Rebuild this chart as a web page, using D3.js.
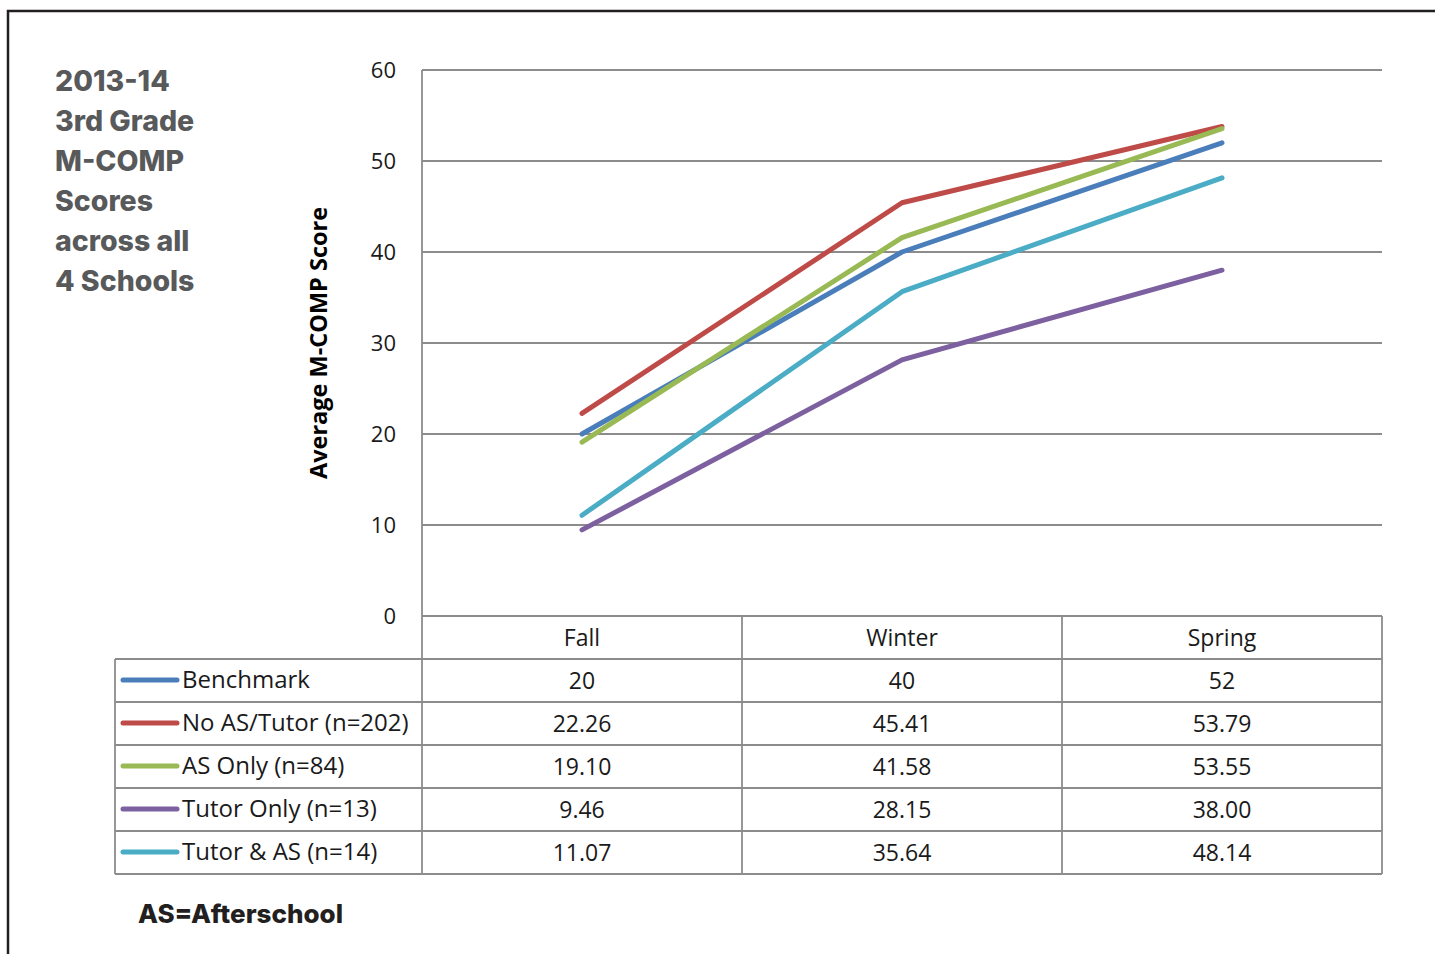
<!DOCTYPE html>
<html>
<head>
<meta charset="utf-8">
<script src="https://cdn.jsdelivr.net/npm/d3@7"></script>
<style>
  body { margin: 0; background: #fff; }
  svg { display: block; }
</style>
</head>
<body>
<svg class="d3svg" width="1435" height="954"></svg>
<script>
var seasons = ["Fall", "Winter", "Spring"];
var seriesNames = ["Benchmark", "No AS/Tutor (n=202)", "AS Only (n=84)", "Tutor Only (n=13)", "Tutor & AS (n=14)"];
var benchmark = [20, 40, 52];
var noAsTutor = [22.26, 45.41, 53.79];
var asOnly = [19.10, 41.58, 53.55];
var tutorOnly = [9.46, 28.15, 38.00];
var tutorAs = [11.07, 35.64, 48.14];
var tableLabels = [
  ["20", "40", "52"],
  ["22.26", "45.41", "53.79"],
  ["19.10", "41.58", "53.55"],
  ["9.46", "28.15", "38.00"],
  ["11.07", "35.64", "48.14"]
];
var yTicks = [0, 10, 20, 30, 40, 50, 60];
var titleLines = ["2013-14", "3rd Grade", "M-COMP", "Scores", "across all", "4 Schools"];

var colors = ["#4a7ebb", "#be4b48", "#98b954", "#7d60a0", "#4bacc6"];
var allSeries = [benchmark, noAsTutor, asOnly, tutorOnly, tutorAs];

var svg = d3.select(".d3svg");
var gridColor = "#8c8c8c";
var tableFont = "'Open Sans', 'Noto Sans', sans-serif";
var headFont = "Inter, 'Open Sans', sans-serif";

// frame
svg.append("path")
  .attr("d", "M8,954 L8,11 L1435,11")
  .attr("fill", "none")
  .attr("stroke", "#231f20")
  .attr("stroke-width", 2.5);

// title block
svg.append("g").selectAll("text")
  .data(titleLines)
  .enter().append("text")
  .attr("x", 55)
  .attr("y", function(d, i) { return 91 + i * 40; })
  .attr("font-family", headFont)
  .attr("font-weight", 800)
  .attr("font-size", 28.5)
  .attr("fill", "#58595b")
  .text(function(d) { return d; });

var x = d3.scaleBand().domain(seasons).range([422, 1382]);
var y = d3.scaleLinear().domain([0, 60]).range([616, 70]);

// gridlines
svg.append("g").selectAll("line")
  .data(yTicks)
  .enter().append("line")
  .attr("x1", 422).attr("x2", 1382)
  .attr("y1", function(d) { return y(d); })
  .attr("y2", function(d) { return y(d); })
  .attr("stroke", gridColor)
  .attr("stroke-width", 1.8);

svg.append("line")
  .attr("x1", 422).attr("x2", 422)
  .attr("y1", y(60)).attr("y2", 874)
  .attr("stroke", gridColor).attr("stroke-width", 1.8);

// y tick labels
svg.append("g").selectAll("text")
  .data(yTicks)
  .enter().append("text")
  .attr("x", 396)
  .attr("y", function(d) { return y(d) + 8; })
  .attr("text-anchor", "end")
  .attr("font-family", tableFont)
  .attr("font-size", 22)
  .attr("fill", "#1a1a1a")
  .text(function(d) { return d; });

svg.append("text")
  .attr("transform", "translate(327,343) rotate(-90)")
  .attr("text-anchor", "middle")
  .attr("font-family", tableFont)
  .attr("font-weight", "bold")
  .attr("font-size", 23.5)
  .attr("fill", "#000")
  .text("Average M-COMP Score");

// lines
var line = d3.line()
  .x(function(d, i) { return x(seasons[i]) + x.bandwidth() / 2; })
  .y(function(d) { return y(d); });

svg.append("g").selectAll("path")
  .data(allSeries)
  .enter().append("path")
  .attr("d", function(d) { return line(d); })
  .attr("fill", "none")
  .attr("stroke", function(d, i) { return colors[i]; })
  .attr("stroke-width", 5)
  .attr("stroke-linecap", "round")
  .attr("stroke-linejoin", "round");

// data table
var rowH = 43;
var tableTop = 616;
var headerBottom = tableTop + rowH;
var tableBottom = headerBottom + rowH * seriesNames.length;
var tbl = svg.append("g");

// horizontal lines
tbl.selectAll("line.h")
  .data(d3.range(seriesNames.length + 1))
  .enter().append("line")
  .attr("x1", 115).attr("x2", 1382)
  .attr("y1", function(d) { return headerBottom + d * rowH; })
  .attr("y2", function(d) { return headerBottom + d * rowH; })
  .attr("stroke", gridColor).attr("stroke-width", 1.8);

// vertical lines
var vx = [742, 1062, 1382];
tbl.selectAll("line.v")
  .data(vx)
  .enter().append("line")
  .attr("x1", function(d) { return d; }).attr("x2", function(d) { return d; })
  .attr("y1", tableTop).attr("y2", tableBottom)
  .attr("stroke", gridColor).attr("stroke-width", 1.8);

tbl.append("line")
  .attr("x1", 115).attr("x2", 115)
  .attr("y1", headerBottom).attr("y2", tableBottom)
  .attr("stroke", gridColor).attr("stroke-width", 1.8);

// header
tbl.selectAll("text.head")
  .data(seasons)
  .enter().append("text")
  .attr("x", function(d) { return x(d) + x.bandwidth() / 2; })
  .attr("y", tableTop + 30)
  .attr("text-anchor", "middle")
  .attr("font-family", tableFont)
  .attr("font-size", 23)
  .attr("fill", "#1a1a1a")
  .text(function(d) { return d; });

// rows
var rows = tbl.selectAll("g.row")
  .data(seriesNames)
  .enter().append("g")
  .attr("transform", function(d, i) { return "translate(0," + (headerBottom + i * rowH) + ")"; });

rows.append("line")
  .attr("x1", 123).attr("x2", 177)
  .attr("y1", 21).attr("y2", 21)
  .attr("stroke", function(d, i) { return colors[i]; })
  .attr("stroke-width", 5)
  .attr("stroke-linecap", "round");

rows.append("text")
  .attr("x", 182)
  .attr("y", 29)
  .attr("font-family", tableFont)
  .attr("font-size", 24)
  .attr("fill", "#1a1a1a")
  .text(function(d) { return d; });

rows.each(function(d, i) {
  d3.select(this).selectAll("text.val")
    .data(tableLabels[i])
    .enter().append("text")
    .attr("x", function(v, j) { return x(seasons[j]) + x.bandwidth() / 2; })
    .attr("y", 30)
    .attr("text-anchor", "middle")
    .attr("font-family", tableFont)
    .attr("font-size", 23)
    .attr("fill", "#1a1a1a")
    .text(function(v) { return v; });
});

// footnote
svg.append("text")
  .attr("x", 138)
  .attr("y", 923)
  .attr("font-family", headFont)
  .attr("font-weight", 800)
  .attr("font-size", 26)
  .attr("fill", "#231f20")
  .text("AS=Afterschool");
</script>
</body>
</html>
